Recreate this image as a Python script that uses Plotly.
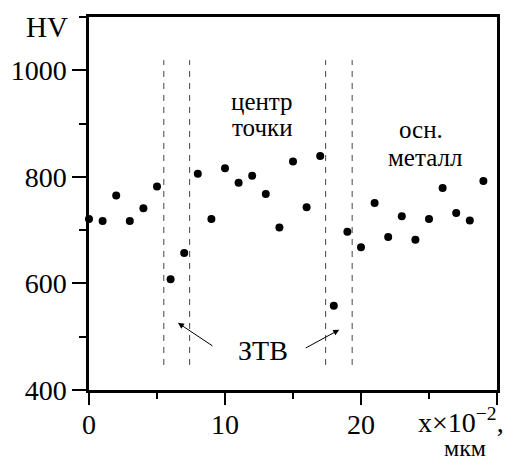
import plotly.graph_objects as go

# data
x_pos = list(range(30))
hv = [721, 717, 765, 717, 741, 782, 608, 657, 806, 721,
      816, 789, 802, 768, 705, 829, 743, 839, 558, 697,
      668, 751, 687, 726, 682, 721, 779, 732, 718, 792]
zone_lines = [5.5, 7.4, 17.4, 19.35]
zone_y = [447, 1019]

FONT = "Liberation Serif, Times New Roman, serif"

W, H = 512, 460
L, R, T, B = 89, 15, 17, 70
pw, ph = W - L - R, H - T - B
def px_to_paper(px, py):
    return (px - L) / pw, 1 - (py - T) / ph

fig = go.Figure()
fig.add_trace(go.Scatter(x=x_pos, y=hv, mode="markers",
                         marker=dict(color="black", size=8),
                         showlegend=False, cliponaxis=False))

for xv in zone_lines:
    fig.add_shape(type="line", x0=xv, x1=xv, y0=zone_y[0], y1=zone_y[1],
                  xref="x", yref="y",
                  line=dict(color="#444", width=1, dash="6px,6px"))

def txt(t, px, py, size=26, xanchor="center", yanchor="middle"):
    xp, yp = px_to_paper(px, py)
    fig.add_annotation(text=t, x=xp, y=yp, xref="paper", yref="paper", showarrow=False,
                       font=dict(family=FONT, size=size, color="black"),
                       xanchor=xanchor, yanchor=yanchor)

txt("центр", 262, 101, size=25)
txt("точки", 262, 128, size=25)
txt("осн.", 421, 129, size=25)
txt("металл", 425, 157, size=25)
txt("ЗТВ", 263, 350, size=28)
txt("HV", 70, 27, size=29, xanchor="right")
txt("x×10<sup>−2</sup>,", 461, 420, size=28)
txt("мкм", 465, 448, size=24)

# arrows
fig.add_annotation(x=6.54, y=526, xref="x", yref="y", ax=36, ay=24, text="",
                   showarrow=True, arrowhead=2, arrowsize=1.2, arrowwidth=1, arrowcolor="black")
fig.add_annotation(x=18.4, y=513, xref="x", yref="y", ax=-35, ay=19, text="",
                   showarrow=True, arrowhead=2, arrowsize=1.2, arrowwidth=1, arrowcolor="black")

fig.update_xaxes(range=[0, 30], tickvals=[0, 10, 20, 30], ticktext=["0", "10", "20", ""],
                 ticks="outside", ticklen=12, tickwidth=2, tickcolor="black",
                 ticklabelstandoff=-4,
                 minor=dict(tickvals=[5, 15, 25], ticks="outside", ticklen=6, tickwidth=2, tickcolor="black"),
                 showline=True, linewidth=2.5, linecolor="black", mirror=True,
                 showgrid=False, zeroline=False,
                 tickfont=dict(family=FONT, size=28, color="black"))
fig.update_yaxes(range=[400, 1100], tickvals=[400, 600, 800, 1000], ticktext=["400", "600", "800", "1000"],
                 ticks="outside", ticklen=14, tickwidth=2, tickcolor="black",
                 minor=dict(tickvals=[500, 700, 900, 1100], ticks="outside", ticklen=7, tickwidth=2, tickcolor="black"),
                 showline=True, linewidth=2.5, linecolor="black", mirror=True,
                 showgrid=False, zeroline=False,
                 tickfont=dict(family=FONT, size=28, color="black"))

fig.update_layout(width=W, height=H, margin=dict(l=L, r=R, t=T, b=B),
                  plot_bgcolor="white", paper_bgcolor="white",
                  font=dict(family=FONT, color="black"))
fig.write_html("out.html")
